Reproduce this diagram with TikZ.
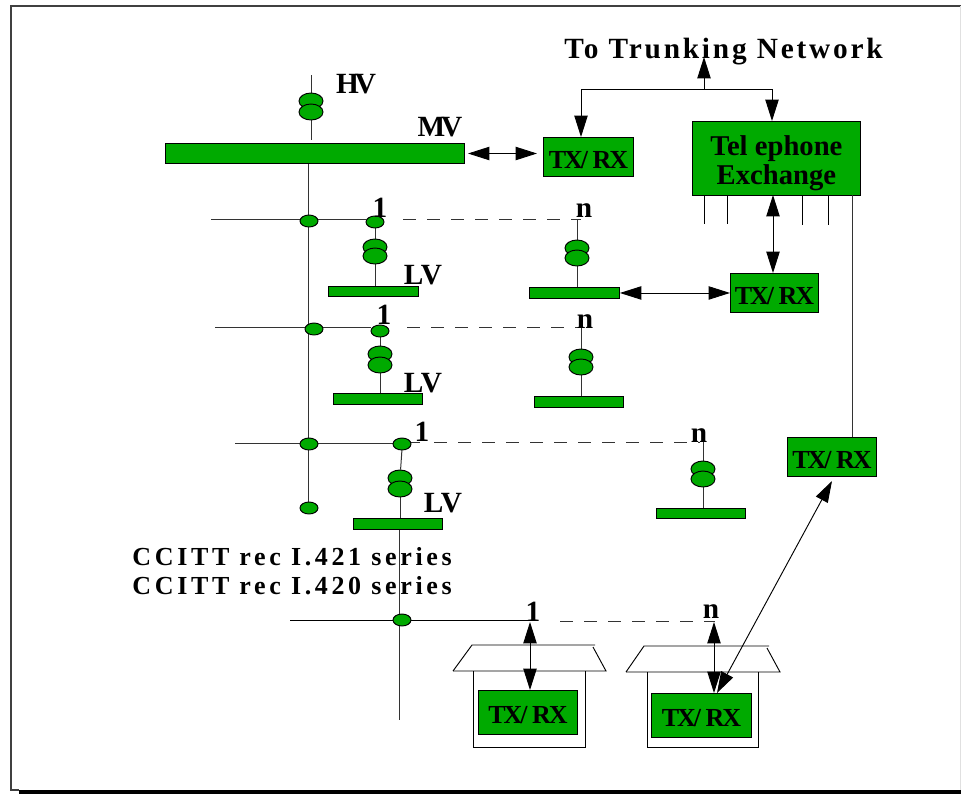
\documentclass[tikz,border=0pt]{standalone}
\usepackage{fontspec}
\setmainfont{Liberation Serif}
\newfontfamily\widefont[LetterSpace=14]{Liberation Serif}
\newfontfamily\trunkfont[LetterSpace=9.5]{Liberation Serif}
\newfontfamily\tightfont[LetterSpace=-14]{Liberation Serif}
\newfontfamily\boxfont[LetterSpace=-8]{Liberation Serif}
\usetikzlibrary{shapes.geometric, arrows.meta, backgrounds}
\definecolor{busgreen}{RGB}{0,170,0}
\tikzset{
    bar/.style={draw, fill=busgreen, inner sep=0pt, anchor=north west},
    txrx/.style={bar, font=\boxfont\bfseries\fontsize{19.5}{21}\selectfont, text=black},
    exchbox/.style={bar, font=\bfseries\fontsize{21.5}{21.75}\selectfont, text=black},
    junction/.style={ellipse, draw, fill=busgreen, inner sep=0pt, minimum width=13.5pt, minimum height=9pt},
    coil/.style={ellipse, draw, fill=busgreen, inner sep=0pt, minimum width=18pt, minimum height=12pt},
    lbl/.style={font=\bfseries\fontsize{22}{24}\selectfont, inner sep=0pt},
    tightlbl/.style={font=\tightfont\bfseries\fontsize{22}{24}\selectfont, inner sep=0pt},
    widelbl/.style={font=\widefont\bfseries\fontsize{19.5}{22.5}\selectfont, inner sep=0pt},
    both/.style={{Triangle[length=16pt,width=10pt]}-{Triangle[length=16pt,width=10pt]}},
    head/.style={-{Triangle[length=16pt,width=10pt]}},
    line/.style={line width=0.75pt, black!80},
    dashline/.style={line, dash pattern=on 10pt off 8pt}
}
\newcommand{\barbox}[6]{\node[#1, minimum width=#4*0.75pt, minimum height=#5*0.75pt] (#2) at #3 {#6};}
\newcommand{\txtext}{\raisebox{-2pt}[\height][\depth]{TX/\ RX}}
\begin{document}
\begin{tikzpicture}[x=0.75pt, y=-0.75pt, line width=0.7pt]
    \useasboundingbox (0,0) rectangle (961,794);
    % frame
    \coordinate (frameA) at (11,6);
    \coordinate (frameB) at (961,6);
    \coordinate (frameC) at (11,790);
    \coordinate (frameD) at (19,792);
    \coordinate (frameE) at (961,792);
    \draw[black!75, line width=0.9pt] (frameB) -- (frameA) -- (frameC) -- (19,790);
    \draw[black!12] (960.5,6) -- (960.5,790);
    \draw[line width=3pt] (frameD) -- (frameE);
    % HV / MV
    \barbox{bar}{mvbar}{(165,143)}{299}{20}{}
    \node[coil] (hvA) at (311,101) {};
    \node[coil] (hvB) at (311,112) {};
    \coordinate (hvtop) at (311,75);
    \node[tightlbl] (hvlbl) at (356,84) {HV};
    \node[tightlbl] (mvlbl) at (440,127) {MV};
    \barbox{txrx}{txA}{(543,137)}{90}{39}{\txtext}
    \barbox{exchbox}{exch}{(692,121)}{168}{74}{\raisebox{-4.5pt}[\height][\depth]{\begin{tabular}{@{}c@{}}Tel ephone\\Exchange\end{tabular}}}
    \barbox{txrx}{txB}{(730,273)}{88}{39}{\txtext}
    \barbox{txrx}{txC}{(787,437)}{89}{39}{\txtext}
    \node[font=\trunkfont\bfseries\fontsize{22}{24}\selectfont, inner sep=0pt] (trunk) at (723.5,52) {To Trunking Network};
    % first group
    \node[junction] (jA) at (309,221) {};
    \node[junction] (oneA) at (375,222) {};
    \node[lbl] (oneAlbl) at (380,208) {1};
    \node[lbl] (nAlbl) at (584,211) {n};
    \node[coil] (tAa) at (375,247) {};
    \node[coil] (tAb) at (375,256) {};
    \node[coil] (tAc) at (577,248) {};
    \node[coil] (tAd) at (577,258) {};
    \barbox{bar}{lvA}{(328,286)}{90}{10}{}
    \barbox{bar}{lvB}{(529,287)}{90}{11}{}
    \node[lbl] (lvAlbl) at (423,275) {LV};
    % second group
    \node[junction] (jB) at (314,329) {};
    \node[junction] (oneB) at (380,331) {};
    \node[lbl] (oneBlbl) at (384,315) {1};
    \node[lbl] (nBlbl) at (585,322) {n};
    \node[coil] (tBa) at (380,354) {};
    \node[coil] (tBb) at (380,365) {};
    \node[coil] (tBc) at (581,357) {};
    \node[coil] (tBd) at (581,367) {};
    \barbox{bar}{lvC}{(333,393)}{89}{11}{}
    \barbox{bar}{lvD}{(534,396)}{89}{11}{}
    \node[lbl] (lvBlbl) at (423,383) {LV};
    % third group
    \node[junction] (jC) at (309,444) {};
    \node[junction] (jD) at (309,508) {};
    \node[junction] (oneC) at (402,444) {};
    \node[lbl] (oneClbl) at (422,432) {1};
    \node[lbl] (nClbl) at (699,436) {n};
    \node[coil] (tCa) at (400,478) {};
    \node[coil] (tCb) at (400,489) {};
    \node[coil] (tCc) at (703,469) {};
    \node[coil] (tCd) at (703,479) {};
    \barbox{bar}{lvE}{(353,518)}{89}{11}{}
    \barbox{bar}{lvF}{(656,508)}{89}{10}{}
    \node[lbl] (lvClbl) at (443,503) {LV};
    % rec series
    \node[widelbl, anchor=west] (recA) at (132,557) {CCITT rec I.421 series};
    \node[widelbl, anchor=west] (recB) at (132,586) {CCITT rec I.420 series};
    % subscribers
    \node[junction] (jE) at (402,620) {};
    \node[lbl] (oneDlbl) at (533,612) {1};
    \node[lbl] (nDlbl) at (711,612) {n};
    \barbox{txrx}{txD}{(478,690)}{99}{44}{\txtext}
    \barbox{txrx}{txE}{(651,693)}{100}{44}{\txtext}
    % houses
    \draw (453,671) -- (472,645) -- (595,645);
    \draw (593,647) -- (606,671) -- (453,671);
    \draw (473,671) -- (473,747) -- (585,747) -- (585,671);
    \draw (626,672) -- (644,646) -- (769,646);
    \draw (767,648) -- (780,672) -- (626,672);
    \draw (647,672) -- (647,747) -- (758,747) -- (758,672);
    % connectors
    \begin{scope}[on background layer]
        \draw[line] (hvtop) -- (hvA);
        \draw[line] (hvB) -- (311,140);
        \draw[line] (308,163) -- (308,503);
        \draw[line] (211,219) -- (oneA.west |- 0,219);
        \draw[dashline] (403,219) -- (581,219);
        \draw[line] (oneA) -- (tAa);
        \draw[line] (tAb) -- (lvA.north -| tAb);
        \draw[line] (577,219) -- (tAc);
        \draw[line] (tAd) -- (lvB.north -| tAd);
        \draw[line] (215,327) -- (oneB.west |- 0,327);
        \draw[dashline] (407,327) -- (585,327);
        \draw[line] (oneB) -- (tBa);
        \draw[line] (tBb) -- (lvC.north -| tBb);
        \draw[line] (581,327) -- (tBc);
        \draw[line] (tBd) -- (lvD.north -| tBd);
        \draw[line] (235,443) -- (oneC.west |- 0,443);
        \draw[line] (oneC.east |- 0,442) -- (420,442);
        \draw[dashline] (434,442) -- (700,442);
        \draw[line] (402,449) -- (tCa);
        \draw[line] (tCb) -- (lvE.north -| tCb);
        \draw[line] (703,442) -- (tCc);
        \draw[line] (tCd) -- (lvF.north -| tCd);
        \draw[line] (399,529) -- (399,720);
        \draw[line, black] (290,620) -- (538,620);
        \draw[dashline] (560,621) -- (715,621);
    \end{scope}
    \coordinate (mvarrow) at (468,153.5);
    \coordinate (txAarrow) at (537,153.5);
    \draw[both] (mvarrow) -- (txAarrow);
    \draw[both] (lvB.east) -- (txB.west);
    \draw[head] (581,89) -- (581,137);
    \draw (581,89) -- (772,89);
    \draw[head] (772,89) -- (772,121);
    \draw[head] (704,89) -- (704,57);
    \draw[both] (773,195) -- (773,273);
    \draw (704,195) -- (704,224);
    \draw (727,195) -- (727,224);
    \draw (802,195) -- (802,225);
    \draw (828,195) -- (828,225);
    \draw[line] (852,195) -- (852,437);
    \draw[both] (530,622) -- (530,690);
    \draw[both] (714,622) -- (714,693);
    \draw[both] (832,481) -- (717,693);
\end{tikzpicture}
\end{document}
